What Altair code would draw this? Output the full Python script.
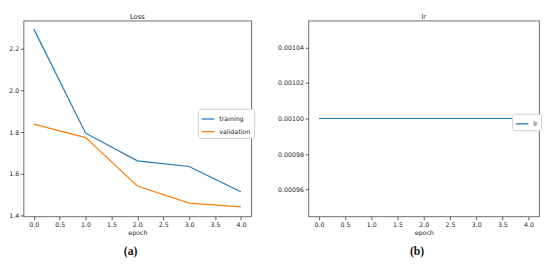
import altair as alt
import pandas as pd

epochs = [0, 1, 2, 3, 4]
training = [2.292, 1.795, 1.663, 1.636, 1.515]
validation = [1.838, 1.774, 1.543, 1.461, 1.443]
lr = [0.001, 0.001, 0.001, 0.001, 0.001]

x_ticks = [0.0, 0.5, 1.0, 1.5, 2.0, 2.5, 3.0, 3.5, 4.0]
loss_ticks = [1.4, 1.6, 1.8, 2.0, 2.2]
lr_ticks = [0.00096, 0.00098, 0.00100, 0.00102, 0.00104]

loss_series = ["training", "validation"]
lr_series = ["lr"]
colors = ["#1f77b4", "#ff7f0e"]

FONT = "DejaVu Sans"
FS = 6.5
W1, W2, H = 235, 238, 202

loss_df = pd.DataFrame({
    "epoch": epochs * 2,
    "value": training + validation,
    "series": ["training"] * len(epochs) + ["validation"] * len(epochs),
})
lr_df = pd.DataFrame({"epoch": epochs, "value": lr, "series": ["lr"] * len(epochs)})

x_enc = alt.X("epoch:Q", scale=alt.Scale(domain=[-0.2, 4.2], nice=False, zero=False),
              axis=alt.Axis(values=x_ticks, format=".1f", title="epoch", titlePadding=2))


def legend(x, y):
    return alt.Legend(title=None, orient="none", legendX=x, legendY=y,
                      symbolType="stroke", symbolSize=169, symbolStrokeWidth=1.3,
                      labelFont=FONT, labelFontSize=FS, labelColor="#222",
                      fillColor="white", strokeColor="#cccccc", cornerRadius=2,
                      padding=3, rowPadding=2, symbolOffset=0, labelOffset=4)


loss_lines = alt.Chart(loss_df).mark_line(strokeWidth=1.2).encode(
    x=x_enc,
    y=alt.Y("value:Q", scale=alt.Scale(domain=[1.3975, 2.3325], nice=False, zero=False),
            axis=alt.Axis(values=loss_ticks, format=".1f", title=None)),
    color=alt.Color("series:N", scale=alt.Scale(domain=loss_series, range=colors),
                    legend=legend(180, 91)),
)

lr_lines = alt.Chart(lr_df).mark_line(strokeWidth=1.2).encode(
    x=x_enc,
    y=alt.Y("value:Q", scale=alt.Scale(domain=[0.000945, 0.001055], nice=False, zero=False),
            axis=alt.Axis(values=lr_ticks, format=".5f", title=None)),
    color=alt.Color("series:N", scale=alt.Scale(domain=lr_series, range=colors[:1]),
                    legend=legend(210, 96)),
)


def caption(letter, w):
    d = pd.DataFrame({"t": ["(" + letter + ")"]})
    return alt.Chart(d).mark_text(font="Liberation Serif", fontSize=12, fontWeight="bold",
                                  color="#111", baseline="middle").encode(
        x=alt.value(w / 2 - 7), y=alt.value(H + 36), text="t:N")


left = alt.layer(loss_lines, caption("a", W1)).properties(
    width=W1, height=H,
    title=alt.TitleParams("Loss", font=FONT, fontSize=7, fontWeight="normal", offset=1, color="#222"))
right = alt.layer(lr_lines, caption("b", W2)).properties(
    width=W2, height=H,
    title=alt.TitleParams("lr", font=FONT, fontSize=7, fontWeight="normal", offset=1, color="#222"))

chart = alt.hconcat(left, right, spacing=22).resolve_scale(color="independent").properties(
    padding=0
).configure_axis(
    labelFont=FONT, labelFontSize=FS, labelColor="#222", tickColor="#333", tickSize=3.5,
    tickWidth=0.8, domain=False, grid=False, titleFont=FONT, titleFontSize=FS,
    titleFontWeight="normal", titleColor="#222", labelPadding=1.5,
).configure_view(stroke="#444", strokeWidth=0.8)

chart.save("out.html", embed_options={"renderer": "svg", "actions": False})
